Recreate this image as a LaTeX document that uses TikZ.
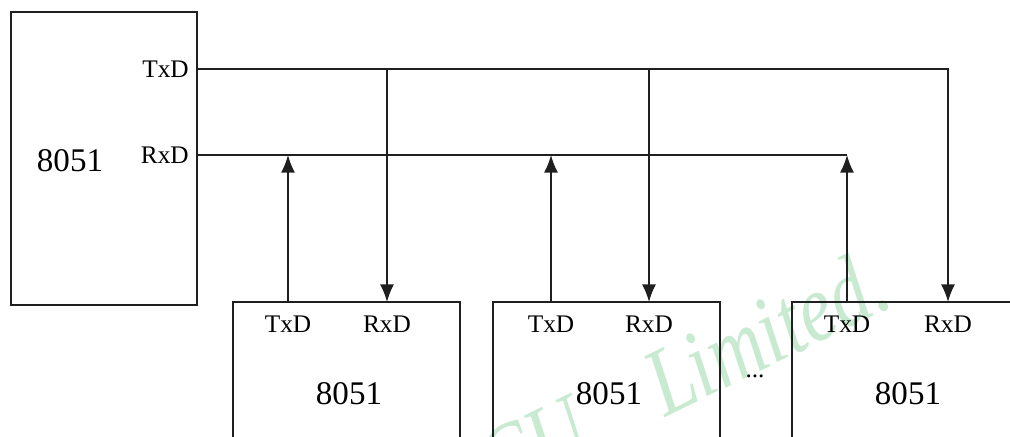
\documentclass[tikz,border=0pt]{standalone}
\usepackage{fontspec}
\setmainfont{Liberation Serif}
\usetikzlibrary{arrows.meta,positioning}
\definecolor{wmgreen}{RGB}{200,234,208}

\begin{document}
\begin{tikzpicture}[x=0.025cm, y=-0.025cm,
  chip/.style={draw=black!88, line width=1.1pt, inner sep=0pt, outer sep=0pt},
  pinlabel/.style={font=\fontsize{18}{20}\selectfont, inner sep=0pt},
  partlabel/.style={font=\fontsize{23.5}{26}\selectfont, inner sep=0pt},
  bus/.style={line width=1.1pt, draw=black!88},
  arrow/.style={-{Latex[length=0.44cm, width=0.35cm]}, line width=1.1pt, draw=black!88}
]
\useasboundingbox (0,0) rectangle (1010,436);
\clip (0,0) rectangle (1010,436);

% watermark
\node[rotate=26, xscale=0.8, anchor=base east, text=wmgreen, inner sep=0pt,
  font=\itshape\fontsize{69}{72}\selectfont] (mark) at (896,305) {STC MCU\hspace{0.75em} Limited.};

% host
\node[chip, minimum width=4.65cm, minimum height=7.325cm] (host) at (104,158.5) {};
\node[pinlabel, anchor=east] (hosttx) at (189,69) {TxD};
\node[pinlabel, anchor=east] (hostrx) at (189,155) {RxD};
\node[partlabel] (hostname) at (70,161) {8051};

% slaves
\node[chip, minimum width=5.675cm, minimum height=4.5cm] (dev1) at (346.5,392) {};
\node[chip, minimum width=5.675cm, minimum height=4.5cm] (dev2) at (606.5,392) {};
\node[chip, minimum width=5.675cm, minimum height=4.5cm] (dev3) at (905.5,392) {};

\node[pinlabel] (dev1tx) at (288,324) {TxD};
\node[pinlabel] (dev1rx) at (387,324) {RxD};
\node[partlabel] (dev1name) at (349,394) {8051};
\node[pinlabel] (dev2tx) at (551,324) {TxD};
\node[pinlabel] (dev2rx) at (649,324) {RxD};
\node[partlabel] (dev2name) at (609,394) {8051};
\node[pinlabel] (dev3tx) at (847,324) {TxD};
\node[pinlabel] (dev3rx) at (948,324) {RxD};
\node[partlabel] (dev3name) at (908,394) {8051};

\node[pinlabel, anchor=base] (more) at (755,377) {...};

% TxD bus
\draw[arrow] (host.east |- hosttx) -| (dev3.north -| dev3rx);
\draw[arrow] (hosttx -| dev1rx) -- (dev1.north -| dev1rx);
\draw[arrow] (hosttx -| dev2rx) -- (dev2.north -| dev2rx);

% RxD bus
\draw[bus] (host.east |- hostrx) -- (hostrx -| dev3tx);
\draw[arrow] (dev1.north -| dev1tx) -- (hostrx -| dev1tx);
\draw[arrow] (dev2.north -| dev2tx) -- (hostrx -| dev2tx);
\draw[arrow] (dev3.north -| dev3tx) -- (hostrx -| dev3tx);
\end{tikzpicture}
\end{document}
